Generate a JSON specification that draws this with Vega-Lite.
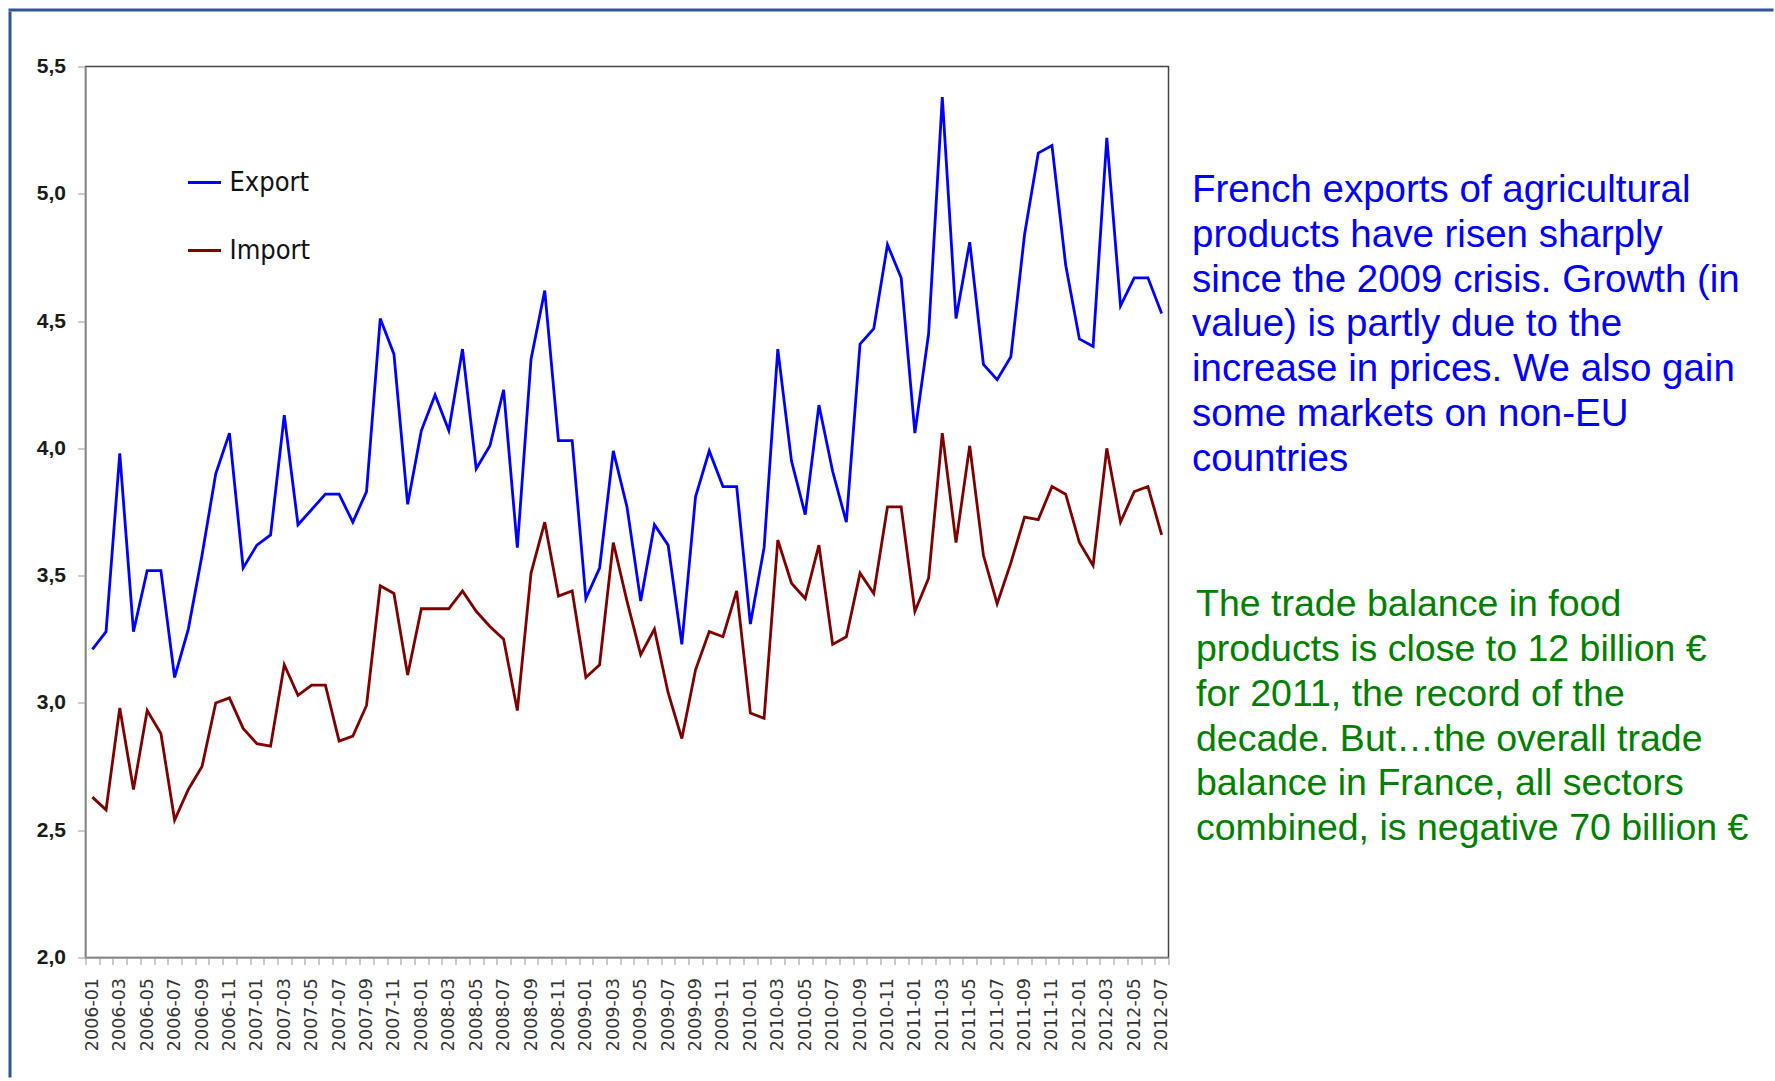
{
  "$schema": "https://vega.github.io/schema/vega-lite/v6.json",
  "background": "white",
  "padding": {"left": 8.5, "top": 8.5, "right": 0, "bottom": 0},
  "spacing": 0,
  "config": {"view": {"stroke": null}},
  "vconcat": [
    {
      "width": 1763,
      "height": 1,
      "data": {"values": []},
      "mark": {"type": "rule"},
      "encoding": {},
      "view": {"stroke": "#2E5594", "strokeWidth": 2}
    },
    {
      "spacing": 24,
      "hconcat": [
        {
          "width": 1,
          "height": 1064,
          "data": {"values": []},
          "mark": {"type": "rule"},
          "encoding": {},
          "view": {"stroke": "#2E5594", "strokeWidth": 2}
        },
        {
          "spacing": 20,
          "hconcat": [
            {
              "spacing": 0,
              "vconcat": [
                {
                  "width": 1,
                  "height": 42,
                  "data": {"values": []},
                  "mark": {"type": "rule"},
                  "encoding": {}
                },
                {
                  "width": 1083,
                  "height": 891,
                  "view": {"stroke": "#444444", "strokeWidth": 1.5},
                  "data": {"values": [
                    {"month": "2006-01", "Export": 3.21, "Import": 2.63},
                    {"month": "2006-02", "Export": 3.28, "Import": 2.58},
                    {"month": "2006-03", "Export": 3.98, "Import": 2.98},
                    {"month": "2006-04", "Export": 3.28, "Import": 2.66},
                    {"month": "2006-05", "Export": 3.52, "Import": 2.97},
                    {"month": "2006-06", "Export": 3.52, "Import": 2.88},
                    {"month": "2006-07", "Export": 3.10, "Import": 2.54},
                    {"month": "2006-08", "Export": 3.29, "Import": 2.66},
                    {"month": "2006-09", "Export": 3.58, "Import": 2.75},
                    {"month": "2006-10", "Export": 3.90, "Import": 3.00},
                    {"month": "2006-11", "Export": 4.06, "Import": 3.02},
                    {"month": "2006-12", "Export": 3.53, "Import": 2.90},
                    {"month": "2007-01", "Export": 3.62, "Import": 2.84},
                    {"month": "2007-02", "Export": 3.66, "Import": 2.83},
                    {"month": "2007-03", "Export": 4.13, "Import": 3.15},
                    {"month": "2007-04", "Export": 3.70, "Import": 3.03},
                    {"month": "2007-05", "Export": 3.76, "Import": 3.07},
                    {"month": "2007-06", "Export": 3.82, "Import": 3.07},
                    {"month": "2007-07", "Export": 3.82, "Import": 2.85},
                    {"month": "2007-08", "Export": 3.71, "Import": 2.87},
                    {"month": "2007-09", "Export": 3.83, "Import": 2.99},
                    {"month": "2007-10", "Export": 4.51, "Import": 3.46},
                    {"month": "2007-11", "Export": 4.37, "Import": 3.43},
                    {"month": "2007-12", "Export": 3.78, "Import": 3.11},
                    {"month": "2008-01", "Export": 4.07, "Import": 3.37},
                    {"month": "2008-02", "Export": 4.21, "Import": 3.37},
                    {"month": "2008-03", "Export": 4.07, "Import": 3.37},
                    {"month": "2008-04", "Export": 4.39, "Import": 3.44},
                    {"month": "2008-05", "Export": 3.92, "Import": 3.36},
                    {"month": "2008-06", "Export": 4.01, "Import": 3.30},
                    {"month": "2008-07", "Export": 4.23, "Import": 3.25},
                    {"month": "2008-08", "Export": 3.61, "Import": 2.97},
                    {"month": "2008-09", "Export": 4.35, "Import": 3.51},
                    {"month": "2008-10", "Export": 4.62, "Import": 3.71},
                    {"month": "2008-11", "Export": 4.03, "Import": 3.42},
                    {"month": "2008-12", "Export": 4.03, "Import": 3.44},
                    {"month": "2009-01", "Export": 3.41, "Import": 3.10},
                    {"month": "2009-02", "Export": 3.53, "Import": 3.15},
                    {"month": "2009-03", "Export": 3.99, "Import": 3.63},
                    {"month": "2009-04", "Export": 3.77, "Import": 3.40},
                    {"month": "2009-05", "Export": 3.40, "Import": 3.19},
                    {"month": "2009-06", "Export": 3.70, "Import": 3.29},
                    {"month": "2009-07", "Export": 3.62, "Import": 3.04},
                    {"month": "2009-08", "Export": 3.23, "Import": 2.86},
                    {"month": "2009-09", "Export": 3.81, "Import": 3.13},
                    {"month": "2009-10", "Export": 3.99, "Import": 3.28},
                    {"month": "2009-11", "Export": 3.85, "Import": 3.26},
                    {"month": "2009-12", "Export": 3.85, "Import": 3.44},
                    {"month": "2010-01", "Export": 3.31, "Import": 2.96},
                    {"month": "2010-02", "Export": 3.61, "Import": 2.94},
                    {"month": "2010-03", "Export": 4.39, "Import": 3.64},
                    {"month": "2010-04", "Export": 3.95, "Import": 3.47},
                    {"month": "2010-05", "Export": 3.74, "Import": 3.41},
                    {"month": "2010-06", "Export": 4.17, "Import": 3.62},
                    {"month": "2010-07", "Export": 3.91, "Import": 3.23},
                    {"month": "2010-08", "Export": 3.71, "Import": 3.26},
                    {"month": "2010-09", "Export": 4.41, "Import": 3.51},
                    {"month": "2010-10", "Export": 4.47, "Import": 3.43},
                    {"month": "2010-11", "Export": 4.80, "Import": 3.77},
                    {"month": "2010-12", "Export": 4.67, "Import": 3.77},
                    {"month": "2011-01", "Export": 4.06, "Import": 3.36},
                    {"month": "2011-02", "Export": 4.45, "Import": 3.49},
                    {"month": "2011-03", "Export": 5.38, "Import": 4.06},
                    {"month": "2011-04", "Export": 4.51, "Import": 3.63},
                    {"month": "2011-05", "Export": 4.81, "Import": 4.01},
                    {"month": "2011-06", "Export": 4.33, "Import": 3.58},
                    {"month": "2011-07", "Export": 4.27, "Import": 3.39},
                    {"month": "2011-08", "Export": 4.36, "Import": 3.55},
                    {"month": "2011-09", "Export": 4.84, "Import": 3.73},
                    {"month": "2011-10", "Export": 5.16, "Import": 3.72},
                    {"month": "2011-11", "Export": 5.19, "Import": 3.85},
                    {"month": "2011-12", "Export": 4.72, "Import": 3.82},
                    {"month": "2012-01", "Export": 4.43, "Import": 3.63},
                    {"month": "2012-02", "Export": 4.40, "Import": 3.54},
                    {"month": "2012-03", "Export": 5.22, "Import": 4.00},
                    {"month": "2012-04", "Export": 4.56, "Import": 3.71},
                    {"month": "2012-05", "Export": 4.67, "Import": 3.83},
                    {"month": "2012-06", "Export": 4.67, "Import": 3.85},
                    {"month": "2012-07", "Export": 4.53, "Import": 3.66}
                  ]},
                  "transform": [{"fold": ["Export", "Import"], "as": ["series", "value"]}],
                  "mark": {"type": "line", "strokeWidth": 2.8},
                  "encoding": {
                    "x": {
                      "field": "month",
                      "type": "ordinal",
                      "bandPosition": 0.5,
                      "scale": {"type": "band", "paddingInner": 0, "paddingOuter": 0},
                      "axis": {
                        "title": null,
                        "tickBand": "extent",
                        "labelAngle": -90,
                        "labelExpr": "(toNumber(substring(datum.value, 5, 7)) % 2 == 1) ? datum.value : ''",
                        "labelFont": "DejaVu Sans",
                        "labelFontSize": 17.5,
                        "labelColor": "#333333",
                        "labelPadding": 13,
                        "labelOverlap": false,
                        "tickSize": 7,
                        "tickColor": "#999999",
                        "domainColor": "#999999",
                        "domainWidth": 1.5
                      }
                    },
                    "y": {
                      "field": "value",
                      "type": "quantitative",
                      "scale": {"domain": [2, 5.5], "nice": false, "zero": false},
                      "axis": {
                        "title": null,
                        "grid": false,
                        "values": [2, 2.5, 3, 3.5, 4, 4.5, 5, 5.5],
                        "labelExpr": "replace(format(datum.value, '.1f'), '.', ',')",
                        "labelFont": "Liberation Sans",
                        "labelFontWeight": "bold",
                        "labelFontSize": 21,
                        "labelColor": "#1a1a1a",
                        "labelPadding": 12,
                        "tickSize": 8,
                        "tickColor": "#999999",
                        "domainColor": "#999999",
                        "domainWidth": 1.5
                      }
                    },
                    "color": {
                      "field": "series",
                      "type": "nominal",
                      "scale": {"domain": ["Export", "Import"], "range": ["#0000FF", "#800000"]},
                      "legend": {
                        "title": null,
                        "orient": "none",
                        "legendX": 177,
                        "legendY": 155,
                        "padding": 0,
                        "symbolType": "stroke",
                        "symbolSize": 1089,
                        "symbolStrokeWidth": 3,
                        "labelFont": "DejaVu Sans Condensed",
                        "labelFontSize": 27,
                        "labelColor": "#111111",
                        "labelOffset": 7,
                        "rowPadding": 37
                      }
                    }
                  }
                }
              ]
            },
            {
              "spacing": 55.3,
              "vconcat": [
                {
                  "width": 1,
                  "height": 77,
                  "data": {"values": []},
                  "mark": {"type": "rule"},
                  "encoding": {}
                },
                {
                  "width": 1,
                  "height": 359.2,
                  "data": {"values": [
                    {"line": 1, "text": "French exports of agricultural"},
                    {"line": 2, "text": "products have risen sharply"},
                    {"line": 3, "text": "since the 2009 crisis. Growth (in"},
                    {"line": 4, "text": "value) is partly due to the"},
                    {"line": 5, "text": "increase in prices. We also gain"},
                    {"line": 6, "text": "some markets on non-EU"},
                    {"line": 7, "text": "countries"}
                  ]},
                  "mark": {"type": "text", "align": "left", "baseline": "middle", "font": "Liberation Sans", "fontSize": 38.5, "color": "#0000FF"},
                  "encoding": {
                    "y": {"field": "line", "type": "ordinal", "scale": {"type": "point", "padding": 1}, "axis": null},
                    "text": {"field": "text"}
                  }
                },
                {
                  "width": 9,
                  "height": 314,
                  "data": {"values": [
                    {"line": 1, "text": "The trade balance in food"},
                    {"line": 2, "text": "products is close to 12 billion €"},
                    {"line": 3, "text": "for 2011, the record of the"},
                    {"line": 4, "text": "decade. But…the overall trade"},
                    {"line": 5, "text": "balance in France, all sectors"},
                    {"line": 6, "text": "combined, is negative 70 billion €"}
                  ]},
                  "mark": {"type": "text", "align": "left", "baseline": "middle", "font": "Liberation Sans", "fontSize": 37.5, "color": "#008000"},
                  "encoding": {
                    "y": {"field": "line", "type": "ordinal", "scale": {"type": "point", "padding": 1}, "axis": null},
                    "text": {"field": "text"}
                  }
                }
              ]
            }
          ]
        }
      ]
    }
  ]
}
